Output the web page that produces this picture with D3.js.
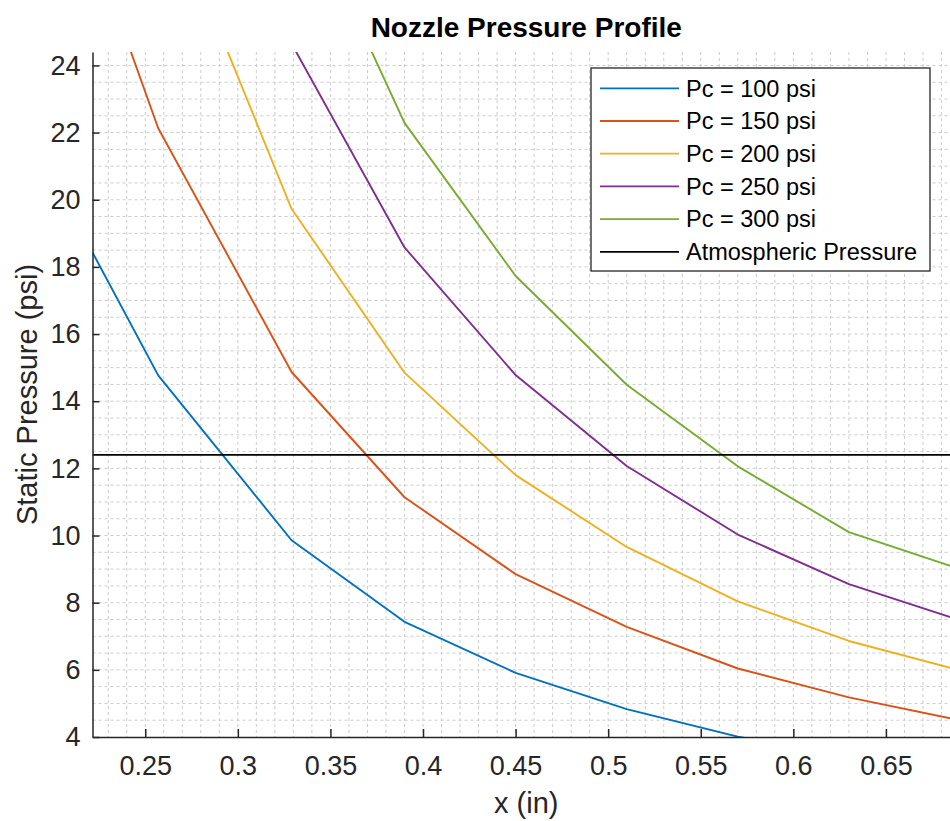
<!DOCTYPE html>
<html>
<head>
<meta charset="utf-8">
<script src="https://cdn.jsdelivr.net/npm/d3@7"></script>
<style>
  html, body { margin: 0; padding: 0; background: #fff; }
  svg { display: block; font-family: "Liberation Sans", Arial, Helvetica, sans-serif; }
</style>
</head>
<body>
<svg id="chart" width="950" height="821"></svg>
<script>
// ---- data ----
const xPositions = [0.2215, 0.257, 0.329, 0.390, 0.450, 0.510, 0.570, 0.630, 0.690];
const pc100 = [18.43, 14.77, 9.86, 7.43, 5.91, 4.83, 4.01, 3.42, 3.00];
const pc150 = [27.6, 22.13, 14.87, 11.14, 8.85, 7.28, 6.04, 5.18, 4.50];
const pc200 = [36.8, 29.5, 19.73, 14.85, 11.8, 9.66, 8.04, 6.86, 5.98];
const pc250 = [46.1, 36.9, 24.65, 18.58, 14.78, 12.07, 10.03, 8.55, 7.48];
const pc300 = [55.3, 44.3, 29.58, 22.29, 17.73, 14.49, 12.06, 10.1, 9.0];
const atmosphericPressure = 12.4;
const seriesNames = ["Pc = 100 psi", "Pc = 150 psi", "Pc = 200 psi", "Pc = 250 psi", "Pc = 300 psi"];
const seriesValues = [pc100, pc150, pc200, pc250, pc300];
const seriesColors = ["#0072BD", "#D95319", "#EDB120", "#7E2F8E", "#77AC30"];
const xTicks = [0.25, 0.3, 0.35, 0.4, 0.45, 0.5, 0.55, 0.6, 0.65];
const yTicks = [4, 6, 8, 10, 12, 14, 16, 18, 20, 22, 24];
const titleText = "Nozzle Pressure Profile";
const xLabel = "x (in)";
const yLabel = "Static Pressure (psi)";
const atmLabel = "Atmospheric Pressure";

(function () {
// ---- layout ----
const pLeft = 92.5, pRight = 960, pTop = 52, pBottom = 737;
const svg = d3.select("#chart");
const x = d3.scaleLinear().domain([0.2215, 0.69]).range([pLeft, pRight]);
const y = d3.scaleLinear().domain([4, 24.4]).range([pBottom, pTop]);
const axisColor = "#262626";

svg.append("defs").append("clipPath").attr("id", "plotclip")
  .append("rect").attr("x", pLeft).attr("y", pTop).attr("width", pRight - pLeft).attr("height", pBottom - pTop);

// grid (minor, dotted)
const gridG = svg.append("g");
const xGrid = d3.range(23, 70).map(v => v / 100);
const yGrid = d3.range(9, 49).map(v => v / 2);
gridG.selectAll("line.vg").data(xGrid).join("line").attr("class", "vg")
  .attr("x1", d => x(d)).attr("x2", d => x(d))
  .attr("y1", pTop).attr("y2", pBottom)
  .attr("stroke", "#cccccc").attr("stroke-width", 1).attr("stroke-dasharray", "3,3");
gridG.selectAll("line.hg").data(yGrid).join("line").attr("class", "hg")
  .attr("x1", pLeft).attr("x2", pRight)
  .attr("y1", d => y(d)).attr("y2", d => y(d))
  .attr("stroke", "#cccccc").attr("stroke-width", 1).attr("stroke-dasharray", "3,3");

// lines
const plotG = svg.append("g").attr("clip-path", "url(#plotclip)");
const line = d3.line().x(d => x(d[0])).y(d => y(d[1]));
seriesValues.forEach((vals, i) => {
  plotG.append("path")
    .datum(xPositions.map((xv, j) => [xv, vals[j]]))
    .attr("d", line)
    .attr("fill", "none")
    .attr("stroke", seriesColors[i])
    .attr("stroke-width", 1.9)
    .attr("stroke-linejoin", "round");
});
plotG.append("line")
  .attr("x1", pLeft).attr("x2", pRight)
  .attr("y1", y(atmosphericPressure)).attr("y2", y(atmosphericPressure))
  .attr("stroke", "#000").attr("stroke-width", 1.8);

// axes
const xAxis = d3.axisBottom(x).tickValues(xTicks).tickSizeInner(-8).tickSizeOuter(0)
  .tickFormat(d => String(+d.toFixed(2)));
const gx = svg.append("g").attr("transform", `translate(0,${pBottom})`).call(xAxis);
gx.select(".domain").attr("stroke", axisColor).attr("stroke-width", 1.5);
gx.selectAll(".tick line").attr("stroke", axisColor).attr("stroke-width", 1.5);
gx.selectAll(".tick text").attr("fill", axisColor).attr("font-size", 27).attr("y", 19).attr("dy", "0.71em");

const yAxis = d3.axisLeft(y).tickValues(yTicks).tickSizeInner(-7).tickSizeOuter(0);
const gy = svg.append("g").attr("transform", `translate(${pLeft},0)`).call(yAxis);
gy.select(".domain").attr("stroke", axisColor).attr("stroke-width", 1.5);
gy.selectAll(".tick line").attr("stroke", axisColor).attr("stroke-width", 1.5);
gy.selectAll(".tick text").attr("fill", axisColor).attr("font-size", 27).attr("x", -12);

// title & labels
svg.append("text").attr("x", (pLeft + 960) / 2).attr("y", 37)
  .attr("text-anchor", "middle").attr("font-size", 28).attr("font-weight", "bold")
  .attr("fill", "#000").text(titleText);
svg.append("text").attr("x", (pLeft + 960) / 2).attr("y", 813)
  .attr("text-anchor", "middle").attr("font-size", 29).attr("fill", axisColor).text(xLabel);
svg.append("text").attr("transform", `translate(37,${(pTop + pBottom) / 2}) rotate(-90)`)
  .attr("text-anchor", "middle").attr("font-size", 29).attr("fill", axisColor).text(yLabel);

// legend
const lg = svg.append("g");
const lx = 591, ly = 68, lw = 339, lh = 203;
lg.append("rect").attr("x", lx).attr("y", ly).attr("width", lw).attr("height", lh)
  .attr("fill", "#fff").attr("stroke", axisColor).attr("stroke-width", 1.3);
const legendNames = seriesNames.concat([atmLabel]);
const legendColors = seriesColors.concat(["#000"]);
legendNames.forEach((name, i) => {
  const cy = 88.3 + i * 32.7;
  lg.append("line").attr("x1", 600).attr("x2", 679).attr("y1", cy).attr("y2", cy)
    .attr("stroke", legendColors[i]).attr("stroke-width", 1.8);
  lg.append("text").attr("x", 686).attr("y", cy).attr("dy", "0.35em")
    .attr("font-size", 23.5).attr("fill", "#000").text(name);
});
})();
</script>
</body>
</html>
